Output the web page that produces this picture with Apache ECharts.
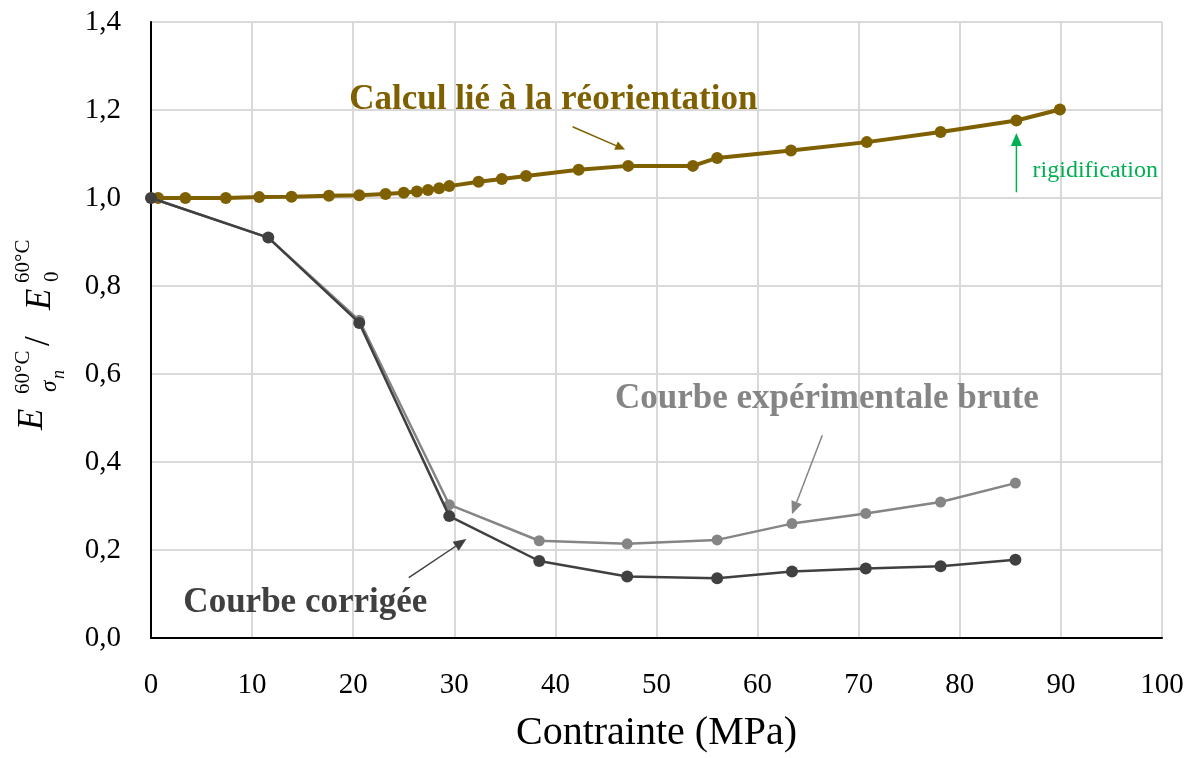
<!DOCTYPE html>
<html>
<head>
<meta charset="utf-8">
<style>
  html, body { margin: 0; padding: 0; background: #ffffff; }
  #chart { width: 1194px; height: 758px; }
</style>
<script src="https://cdn.jsdelivr.net/npm/echarts@6/dist/echarts.min.js"></script>
</head>
<body>
<div id="chart"></div>
<script>
// Stress (MPa) and normalised modulus E(σn)/E0 at 60 °C
const reorientStress = [0.7, 3.4, 7.4, 10.7, 13.9, 17.6, 20.6, 23.2, 25.0, 26.3, 27.4, 28.5, 29.5, 32.4, 34.7, 37.1, 42.3, 47.2, 53.6, 56.0, 63.3, 70.8, 78.1, 85.6, 89.9];
const reorientRatio  = [1.000, 1.000, 1.000, 1.002, 1.003, 1.005, 1.006, 1.009, 1.012, 1.015, 1.018, 1.022, 1.027, 1.037, 1.043, 1.050, 1.064, 1.073, 1.073, 1.091, 1.108, 1.127, 1.150, 1.176, 1.201];

const rawStress = [0, 11.6, 20.6, 29.5, 38.4, 47.1, 56.0, 63.4, 70.7, 78.1, 85.5];
const rawRatio  = [1.000, 0.910, 0.722, 0.303, 0.221, 0.214, 0.223, 0.260, 0.283, 0.309, 0.352];

const corrStress = [0, 11.6, 20.6, 29.5, 38.4, 47.1, 56.0, 63.4, 70.7, 78.1, 85.5];
const corrRatio  = [1.000, 0.910, 0.716, 0.277, 0.175, 0.140, 0.136, 0.151, 0.158, 0.163, 0.178];

const xTicks = [0, 10, 20, 30, 40, 50, 60, 70, 80, 90, 100];
const yTicks = [0, 0.2, 0.4, 0.6, 0.8, 1.0, 1.2, 1.4];

const FONT = '"Liberation Serif", "DejaVu Serif", serif';
const BROWN = '#7f6000';
const GREY = '#858585';
const DARK = '#404040';
const GREEN = '#00b050';

const zip = (xs, ys) => xs.map((x, i) => [x, ys[i]]);

const chart = echarts.init(document.getElementById('chart'), null, { renderer: 'canvas' });

chart.setOption({
  animation: false,
  backgroundColor: '#ffffff',
  grid: { left: 151, right: 32, top: 22, bottom: 113, containLabel: false },
  xAxis: {
    type: 'value',
    min: xTicks[0], max: xTicks[xTicks.length - 1], interval: 10,
    name: 'Contrainte (MPa)',
    nameLocation: 'middle',
    nameGap: 75,
    nameTextStyle: { fontFamily: FONT, fontSize: 40, color: '#000' },
    axisLine: { show: true, onZero: false, lineStyle: { color: '#000', width: 2 } },
    axisTick: { show: false },
    axisLabel: { margin: 33, fontFamily: FONT, fontSize: 29, color: '#000' },
    splitLine: { show: true, lineStyle: { color: '#d9d9d9', width: 2 } }
  },
  yAxis: {
    type: 'value',
    min: yTicks[0], max: yTicks[yTicks.length - 1], interval: 0.2,
    axisLine: { show: true, onZero: false, lineStyle: { color: '#000', width: 2 } },
    axisTick: { show: false },
    axisLabel: {
      margin: 30, fontFamily: FONT, fontSize: 29, color: '#000',
      formatter: v => v.toFixed(1).replace('.', ',')
    },
    splitLine: { show: true, lineStyle: { color: '#d9d9d9', width: 2 } }
  },
  series: [
    {
      name: 'Calcul lié à la réorientation',
      type: 'line',
      data: zip(reorientStress, reorientRatio),
      symbol: 'circle', symbolSize: 12,
      lineStyle: { color: BROWN, width: 4 },
      itemStyle: { color: BROWN },
      z: 2
    },
    {
      name: 'Courbe expérimentale brute',
      type: 'line',
      data: zip(rawStress, rawRatio),
      symbol: 'circle', symbolSize: 11,
      lineStyle: { color: GREY, width: 2.5 },
      itemStyle: { color: GREY },
      z: 3
    },
    {
      name: 'Courbe corrigée',
      type: 'line',
      data: zip(corrStress, corrRatio),
      symbol: 'circle', symbolSize: 12,
      lineStyle: { color: DARK, width: 2.5 },
      itemStyle: { color: DARK },
      z: 4
    }
  ]
});

// Annotation texts and arrows, placed in data coordinates
const px = (x, y) => chart.convertToPixel({ gridIndex: 0 }, [x, y]);

function arrow(from, to, color, width, head) {
  const a = px(from[0], from[1]);
  const b = px(to[0], to[1]);
  const ang = Math.atan2(b[1] - a[1], b[0] - a[0]);
  const hl = head[0], hw = head[1];
  const base = [b[0] - hl * Math.cos(ang), b[1] - hl * Math.sin(ang)];
  const nx = -Math.sin(ang), ny = Math.cos(ang);
  return [
    { type: 'line', shape: { x1: a[0], y1: a[1], x2: base[0], y2: base[1] },
      style: { stroke: color, lineWidth: width }, z: 10 },
    { type: 'polygon', shape: { points: [
        [b[0], b[1]],
        [base[0] + nx * hw, base[1] + ny * hw],
        [base[0] - nx * hw, base[1] - ny * hw]
      ] }, style: { fill: color }, z: 10 }
  ];
}

function label(text, x, y, color, font) {
  const p = px(x, y);
  return { type: 'text', x: p[0], y: p[1], z: 10,
    style: { text, fill: color, font, align: 'left', verticalAlign: 'middle' } };
}

const bold = size => 'bold ' + size + 'px ' + FONT;

// Rotated axis title: E^{60°C}_{σn} / E^{60°C}_0
const yTitle = {
  type: 'group', x: 0, y: 432, rotation: Math.PI / 2, z: 10,
  children: [
    { type: 'text', x: 2, y: 33, style: { text: 'E', font: 'italic 35px ' + FONT, fill: '#000', verticalAlign: 'middle' } },
    { type: 'text', x: 38, y: 23, style: { text: '60°C', font: '21px ' + FONT, fill: '#000', verticalAlign: 'middle' } },
    { type: 'text', x: 40, y: 50, style: { text: 'σ', font: 'italic 23px ' + FONT, fill: '#000', verticalAlign: 'middle' } },
    { type: 'text', x: 53, y: 59, style: { text: 'n', font: 'italic 18px ' + FONT, fill: '#000', verticalAlign: 'middle' } },
    { type: 'text', x: 86, y: 40, style: { text: '/', font: '35px ' + FONT, fill: '#000', verticalAlign: 'middle' } },
    { type: 'text', x: 122, y: 41, style: { text: 'E', font: 'italic 35px ' + FONT, fill: '#000', verticalAlign: 'middle' } },
    { type: 'text', x: 149, y: 23, style: { text: '60°C', font: '21px ' + FONT, fill: '#000', verticalAlign: 'middle' } },
    { type: 'text', x: 150, y: 52, style: { text: '0', font: '21px ' + FONT, fill: '#000', verticalAlign: 'middle' } }
  ]
};

chart.setOption({
  graphic: [
    label('Calcul lié à la réorientation', 19.6, 1.222, BROWN, bold(35)),
    ...arrow([41.7, 1.162], [46.9, 1.110], BROWN, 1.5, [10, 4.5]),
    label('rigidification', 87.2, 1.062, GREEN, '24px ' + FONT),
    ...arrow([85.6, 1.013], [85.6, 1.148], GREEN, 1.5, [13, 5.5]),
    label('Courbe expérimentale brute', 45.9, 0.544, GREY, bold(35)),
    ...arrow([66.4, 0.461], [63.4, 0.281], GREY, 1.5, [13, 5.5]),
    label('Courbe corrigée', 3.2, 0.079, DARK, bold(35)),
    ...arrow([25.5, 0.137], [31.2, 0.225], DARK, 1.5, [13, 5.5]),
    yTitle
  ]
});
</script>
</body>
</html>
